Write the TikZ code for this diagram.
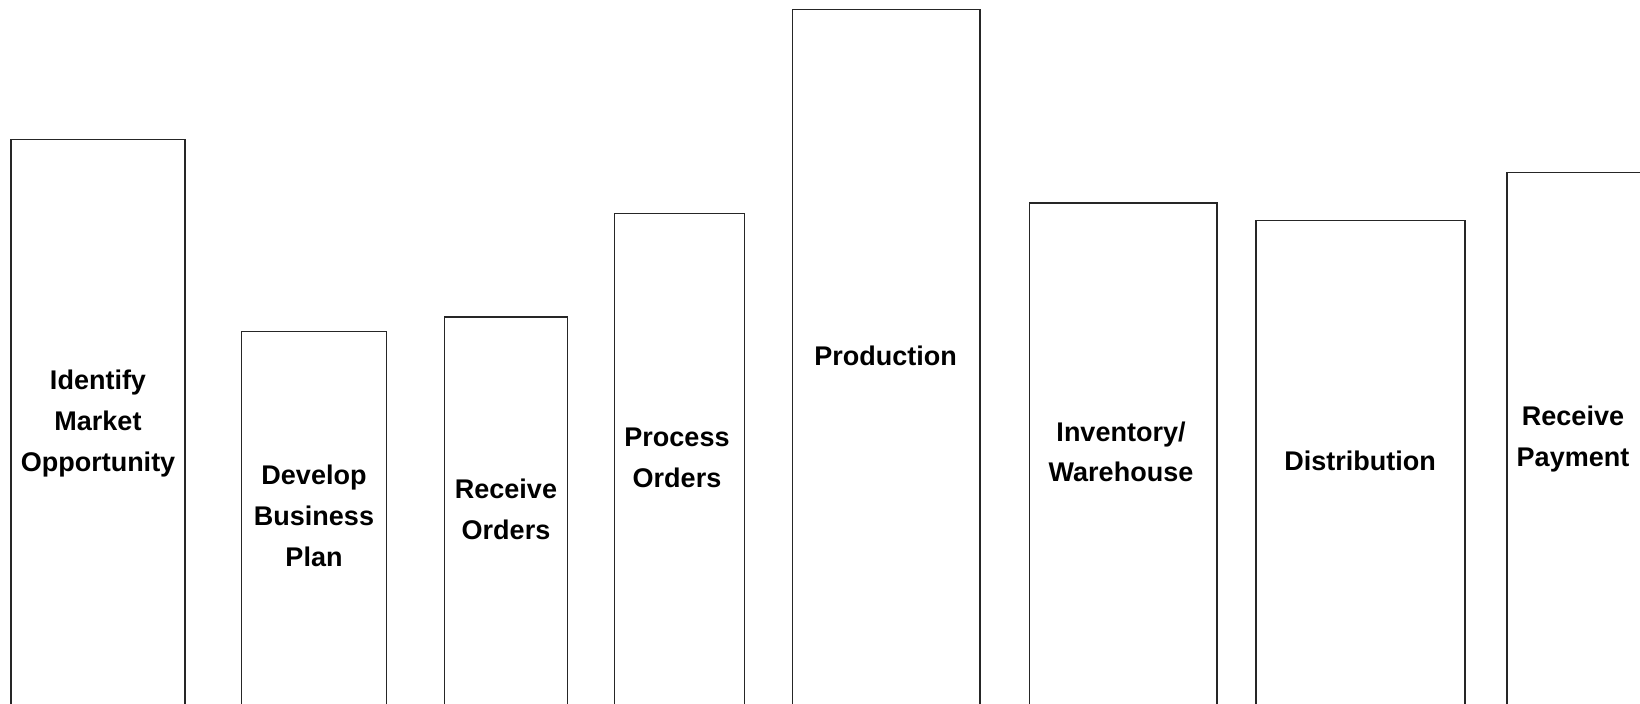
\documentclass[tikz,border=0pt]{standalone}
\usepackage{fontspec}
\setmainfont{Liberation Sans}
\begin{document}
\begin{tikzpicture}[x=0.5pt,y=-0.5pt,
  bar/.style={draw=black!85,line width=0.55pt},
  lbl/.style={align=center,inner sep=0pt,font=\bfseries\fontsize{13.5}{20.4}\selectfont}]
\useasboundingbox (0,0) rectangle (1640,704);
\clip (0,0) rectangle (1640,704);
\draw[bar] (11,710) -- (11,139.3) -- (185,139.3) -- (185,710);
\draw[bar] (241.6,710) -- (241.6,331.5) -- (386.5,331.5) -- (386.5,710);
\draw[bar] (444.5,710) -- (444.5,317) -- (567.5,317) -- (567.5,710);
\draw[bar] (614.5,710) -- (614.5,213.4) -- (744.7,213.4) -- (744.7,710);
\draw[bar] (792.4,710) -- (792.4,9.4) -- (980,9.4) -- (980,710);
\draw[bar] (1029.7,710) -- (1029.7,203) -- (1217,203) -- (1217,710);
\draw[bar] (1256,710) -- (1256,220.7) -- (1465,220.7) -- (1465,710);
\draw[bar] (1507,710) -- (1507,172.6) -- (1650,172.6);
\node[lbl] (n1) at (98,423.5) {Identify\\Market\\Opportunity};
\node[lbl] (n2) at (314,515.6) {Develop\\Business\\Plan};
\node[lbl] (n3) at (506,509.3) {Receive\\Orders};
\node[lbl] (n4) at (677,458) {Process\\Orders};
\node[lbl] (n5) at (885.5,355.6) {Production};
\node[lbl] (n6) at (1121,451.8) {Inventory/\\Warehouse};
\node[lbl] (n7) at (1360,461.2) {Distribution};
\node[lbl] (n8) at (1573,438.7) {Receive\\Payment};
\end{tikzpicture}
\end{document}
